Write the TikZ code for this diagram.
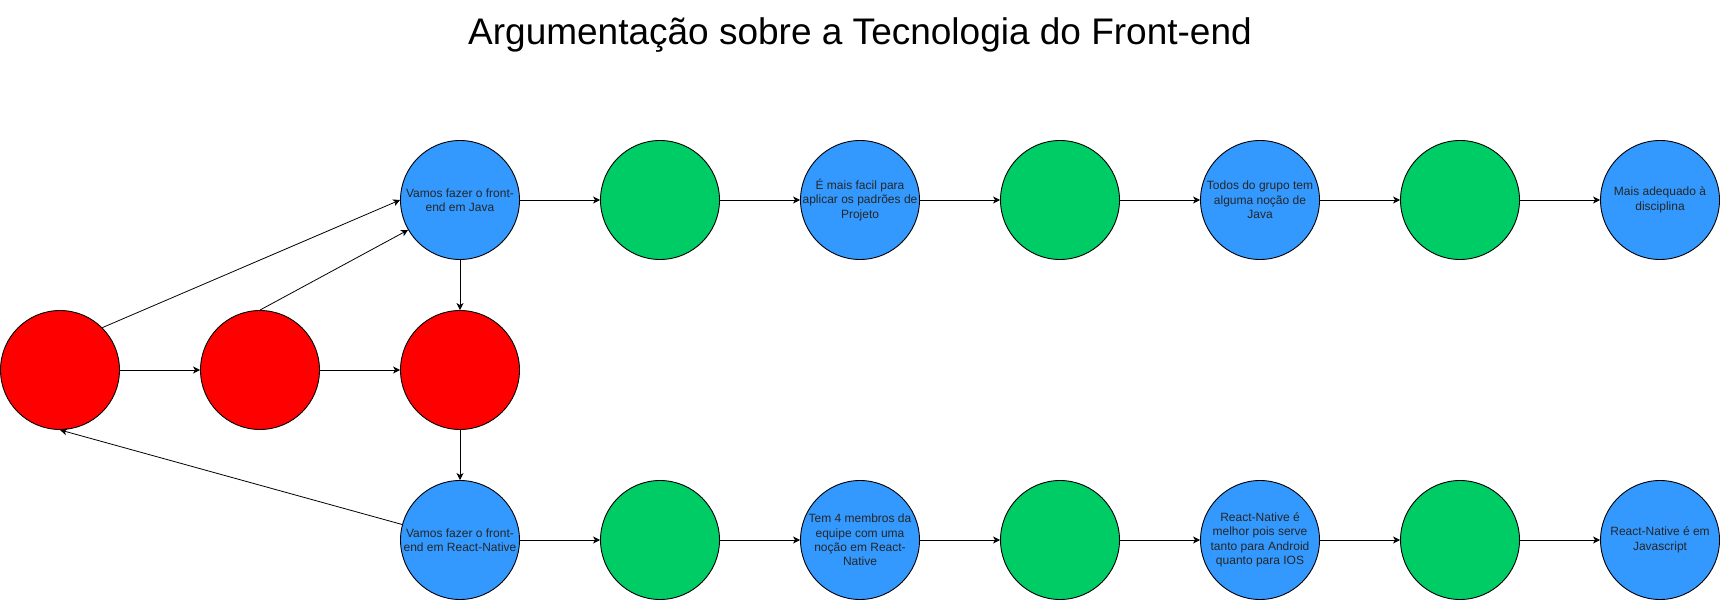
\documentclass[tikz,border=0pt]{standalone}
\usepackage{fontspec}
\setmainfont{Liberation Sans}
\usetikzlibrary{arrows.meta}
\definecolor{cred}{HTML}{FF0000}
\definecolor{cgreen}{HTML}{00CC66}
\definecolor{cblue}{HTML}{3399FF}
\begin{document}
\begin{tikzpicture}[x=1pt,y=-1pt,
  circ/.style={circle, draw=black, line width=0.9pt, minimum size=119pt, inner sep=0pt},
  redc/.style={circ, fill=cred},
  greenc/.style={circ, fill=cgreen},
  bluec/.style={circ, fill=cblue},
  txt/.style={align=center, inner sep=0pt, font=\fontsize{12}{14.4}\selectfont, text=black!85},
  conn/.style={draw=black, line width=0.8pt, -{Stealth[length=7pt,width=7pt,inset=2pt]}},
  title/.style={font=\fontsize{37}{42}\selectfont}
]
\useasboundingbox (0,0) rectangle (1721,601);
\fill[white] (0,0) rectangle (1721,601);

\node[title] (ttl) at (860,35) {Argumentação sobre a Tecnologia do Front-end};

% red nodes
\node[redc] (r1) at (60,370) {};
\node[redc] (r2) at (260,370) {};
\node[redc] (r3) at (460,370) {};

% top row
\node[bluec]  (t1) at (460,200) {};
\node[greenc] (t2) at (660,200) {};
\node[bluec]  (t3) at (860,200) {};
\node[greenc] (t4) at (1060,200) {};
\node[bluec]  (t5) at (1260,200) {};
\node[greenc] (t6) at (1460,200) {};
\node[bluec]  (t7) at (1660,200) {};

% bottom row
\node[bluec]  (b1) at (460,540) {};
\node[greenc] (b2) at (660,540) {};
\node[bluec]  (b3) at (860,540) {};
\node[greenc] (b4) at (1060,540) {};
\node[bluec]  (b5) at (1260,540) {};
\node[greenc] (b6) at (1460,540) {};
\node[bluec]  (b7) at (1660,540) {};

% texts
\node[txt] (t1x) at (t1) {Vamos fazer o front-\\end em Java};
\node[txt] (t3x) at (t3) {É mais facil para\\aplicar os padrões de\\Projeto};
\node[txt] (t5x) at (t5) {Todos do grupo tem\\alguma noção de\\Java};
\node[txt] (t7x) at (t7) {Mais adequado à\\disciplina};
\node[txt] (b1x) at (b1) {Vamos fazer o front-\\end em React-Native};
\node[txt] (b3x) at (b3) {Tem 4 membros da\\equipe com uma\\noção em React-\\Native};
\node[txt] (b5x) at (b5) {React-Native é\\melhor pois serve\\tanto para Android\\quanto para IOS};
\node[txt] (b7x) at (b7) {React-Native é em\\Javascript};

% connectors
\draw[conn] (r1) -- (r2);
\draw[conn] (r2) -- (r3);
\draw[conn] (r1.45) -- (t1.west);
\draw[conn] (r2.north) -- (t1.210);
\draw[conn] (t1) -- (r3);
\draw[conn] (r3) -- (b1);
\draw[conn] (b1.165) -- (r1.south);

\draw[conn] (t1) -- (t2);
\draw[conn] (t2) -- (t3);
\draw[conn] (t3) -- (t4);
\draw[conn] (t4) -- (t5);
\draw[conn] (t5) -- (t6);
\draw[conn] (t6) -- (t7);

\draw[conn] (b1) -- (b2);
\draw[conn] (b2) -- (b3);
\draw[conn] (b3) -- (b4);
\draw[conn] (b4) -- (b5);
\draw[conn] (b5) -- (b6);
\draw[conn] (b6) -- (b7);
\end{tikzpicture}
\end{document}
